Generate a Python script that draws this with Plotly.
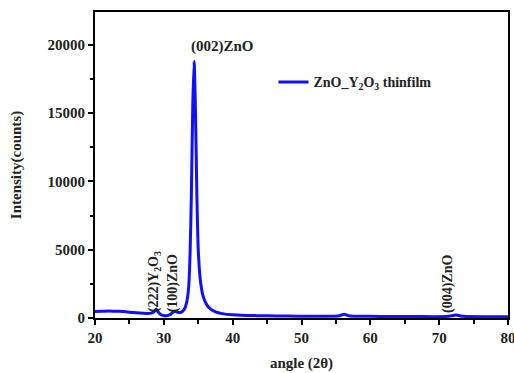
import plotly.graph_objects as go

angle = [20, 21, 22, 23, 24, 25, 26, 27, 27.6, 28.2, 28.6, 28.9, 29.2, 29.6, 30.1, 30.6,
         31.0, 31.3, 31.6, 31.9, 32.3, 32.7, 33.0, 33.3, 33.6, 33.8, 34.0, 34.2, 34.4,
         34.6, 34.8, 35.0, 35.3, 35.7, 36.2, 36.8, 37.5, 38.5, 40, 42, 45, 48, 51, 54,
         55.5, 56.2, 56.9, 58, 60, 63, 66, 69, 71, 72.0, 72.5, 73.1, 74, 77, 80]
intensity = [470, 500, 520, 500, 470, 430, 390, 350, 330, 360, 470, 650, 420, 240, 170, 190,
             280, 420, 500, 440, 400, 480, 650, 1100, 2200, 4500, 9000, 15500, 18800,
             15000, 9000, 5000, 2800, 1600, 1000, 650, 450, 320, 230, 190, 160, 140, 130, 130,
             170, 270, 170, 130, 120, 110, 105, 100, 110, 180, 220, 150, 110, 100, 100]

peak_labels = ["(222)Y<sub>2</sub>O<sub>3</sub>", "(100)ZnO", "(004)ZnO"]
peak_pos = [28.6, 31.3, 71.2]

font_family = "Liberation Serif"
txt_color = "#222"

fig = go.Figure()
fig.add_trace(go.Scatter(
    x=angle, y=intensity, mode="lines",
    line=dict(color="#1010ff", width=3, shape="spline", smoothing=0.6),
    name="ZnO_Y<sub>2</sub>O<sub>3</sub> thinfilm",
))

for lab, px in zip(peak_labels, peak_pos):
    fig.add_annotation(x=px, y=250, text="<b>" + lab + "</b>", textangle=-90, showarrow=False,
                       xanchor="center", yanchor="bottom",
                       font=dict(family=font_family, size=14, color=txt_color))

fig.add_annotation(x=34.3, y=19100, text="<b>(002)ZnO</b>", showarrow=False,
                   xanchor="left", yanchor="bottom", xshift=-4,
                   font=dict(family=font_family, size=15, color=txt_color))

axis_common = dict(showline=True, linecolor="black", linewidth=2, mirror=True,
                   ticks="outside", ticklen=5, tickwidth=1.5, tickcolor="black",
                   showgrid=False, zeroline=False, ticklabeloverflow="allow",
                   tickfont=dict(family=font_family, size=15, color=txt_color, weight="bold"))

fig.update_xaxes(range=[20, 80], dtick=10,
                 minor=dict(ticks="outside", ticklen=4, dtick=5, tickcolor="black"),
                 title=dict(text="<b>angle (2θ)</b>", standoff=12,
                            font=dict(family=font_family, size=15, color=txt_color)),
                 **axis_common)
fig.update_yaxes(range=[0, 22400], dtick=5000, tickformat="d",
                 minor=dict(ticks="outside", ticklen=3, dtick=2500, tickcolor="black"),
                 title=dict(text="<b>Intensity(counts)</b>", standoff=22,
                            font=dict(family=font_family, size=15, color=txt_color)),
                 **axis_common)

fig.update_layout(
    width=514, height=373,
    margin=dict(l=95, r=6, t=12, b=55, autoexpand=False),
    plot_bgcolor="white", paper_bgcolor="white",
    showlegend=True,
    legend=dict(x=0.432, y=0.77, xanchor="left", yanchor="middle",
                bgcolor="rgba(0,0,0,0)",
                font=dict(family=font_family, size=14, color=txt_color, weight="bold")),
)

fig.write_html("out.html", config={"displayModeBar": False},
               post_script="document.body.style.margin='0';document.body.style.padding='0';")
